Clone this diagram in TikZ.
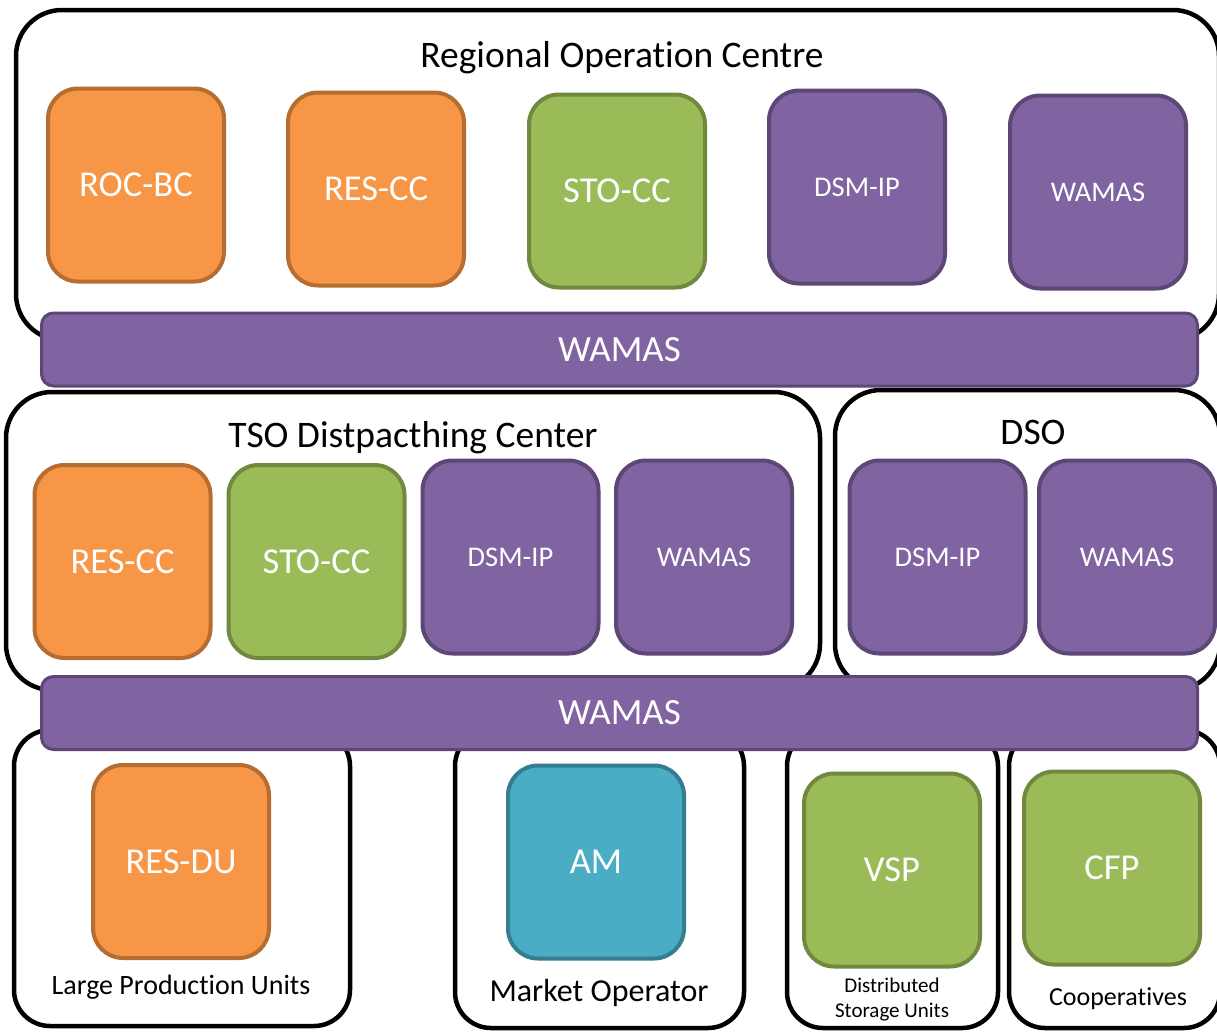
\documentclass[tikz,border=0pt]{standalone}
\usepackage{fontspec}
\setmainfont[Ligatures=NoCommon]{Carlito}
\definecolor{orfill}{HTML}{F79646}
\definecolor{ordraw}{HTML}{B66D31}
\definecolor{grfill}{HTML}{9BBB59}
\definecolor{grdraw}{HTML}{71893F}
\definecolor{pufill}{HTML}{8064A2}
\definecolor{pudraw}{HTML}{5C4776}
\definecolor{aqfill}{HTML}{4BACC6}
\definecolor{aqdraw}{HTML}{357D91}
\tikzset{
  container/.style={draw=black, line width=4.5pt, fill=white, rounded corners=46pt, inner sep=0pt},
  smallcont/.style={container, rounded corners=36pt},
  unitbox/.style={line width=4pt, rounded corners=30pt, minimum width=176pt, minimum height=193pt, inner sep=0pt, text=white},
  orbox/.style={unitbox, draw=ordraw, fill=orfill, font=\fontsize{36.5}{40}\selectfont},
  grbox/.style={unitbox, draw=grdraw, fill=grfill, font=\fontsize{36.5}{40}\selectfont},
  aqbox/.style={unitbox, draw=aqdraw, fill=aqfill, font=\fontsize{36.5}{40}\selectfont},
  pubox/.style={unitbox, draw=pudraw, fill=pufill, font=\fontsize{28.5}{32}\selectfont},
  bar/.style={draw=pudraw, fill=pufill, line width=3pt, rounded corners=12pt, minimum width=1156pt, minimum height=73pt, inner sep=0pt, text=white, font=\fontsize{37}{40}\selectfont},
  title/.style={font=\fontsize{37.5}{40}\selectfont, inner sep=0pt},
  lab/.style={font=\fontsize{28}{32}\selectfont, inner sep=0pt},
}
\begin{document}
\begin{tikzpicture}[x=1pt,y=-1pt]
\useasboundingbox (0,0) rectangle (1217,1031);
\fill[white] (0,0) rectangle (1217,1031);
% containers
\node[container, minimum width=1203pt, minimum height=330pt] (roc) at (617.5,175) {};
\node[title] (roct) at (622,58) {Regional Operation Centre};
\node[orbox] (rocbc) at (136,185) {ROC-BC};
\node[orbox] (rocres) at (376,189) {RES-CC};
\node[grbox] (rocsto) at (617,191) {STO-CC};
\node[pubox] (rocdsm) at (857,187) {DSM-IP};
\node[pubox] (rocwam) at (1098,192) {WAMAS};

\node[container, minimum width=814pt, minimum height=298pt] (tso) at (413,541) {};
\node[title] (tsot) at (413,438) {TSO Distpacthing Center};
\node[orbox] (tsores) at (122.5,561.5) {RES-CC};
\node[grbox] (tsosto) at (316.5,561.5) {STO-CC};
\node[pubox] (tsodsm) at (510.5,557) {DSM-IP};
\node[pubox] (tsowam) at (704,557) {WAMAS};

\node[container, minimum width=385pt, minimum height=300pt] (dso) at (1027.5,540) {};
\node[title] (dsot) at (1033,432) {DSO};
\node[pubox] (dsodsm) at (937.5,557) {DSM-IP};
\node[pubox] (dsowam) at (1127,557) {WAMAS};

\node[bar] (bar1) at (619.5,349.5) {WAMAS};

\node[smallcont, minimum width=336pt, minimum height=296pt] (lpu) at (182,878) {};
\node[orbox] (resdu) at (181,861.5) {RES-DU};
\node[lab] (lput) at (181,987) {Large Production Units};

\node[smallcont, minimum width=289pt, minimum height=298pt] (mo) at (599.5,879) {};
\node[aqbox] (am) at (596,862) {AM};
\node[lab, font=\fontsize{32}{36}\selectfont] (mot) at (599,993) {Market Operator};

\node[smallcont, minimum width=211pt, minimum height=298pt] (dsu) at (892.5,879) {};
\node[grbox] (vsp) at (892,870) {VSP};
\node[lab, font=\fontsize{21}{25}\selectfont, align=center] (dsut) at (892,999.5) {Distributed\\Storage Units};

\node[smallcont, minimum width=211pt, minimum height=298pt] (coop) at (1114.5,879) {};
\node[grbox] (cfp) at (1112,868) {CFP};
\node[lab, font=\fontsize{26}{30}\selectfont] (coopt) at (1118,999) {Cooperatives};

\node[bar] (bar2) at (619.5,713) {WAMAS};
\end{tikzpicture}
\end{document}
